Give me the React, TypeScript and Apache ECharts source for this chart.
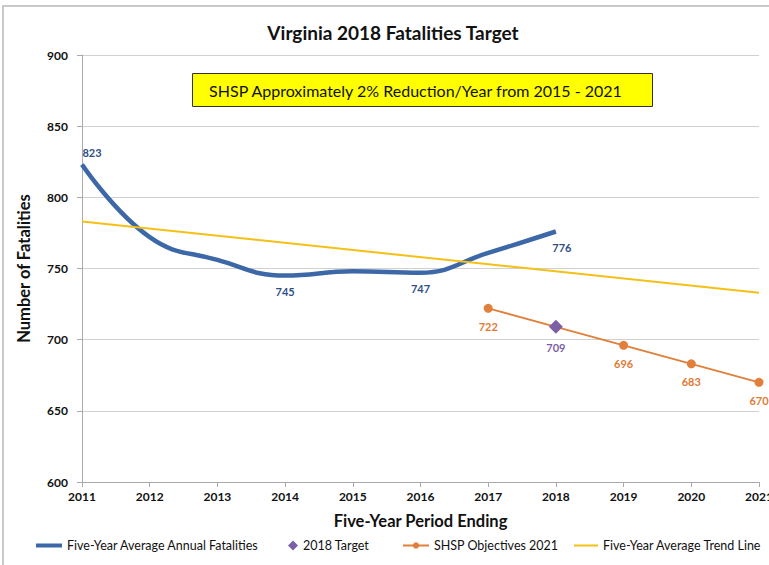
import React, { useEffect, useRef } from "react";
import * as echarts from "echarts";

const years = ["2011", "2012", "2013", "2014", "2015", "2016", "2017", "2018", "2019", "2020", "2021"];
const fiveYearAvg = [823, 772, 756, 745, 748, 747, 761, 776, null, null, null];
const fiveYearLabelShown = [true, false, false, true, false, true, false, true, false, false, false];
const target2018 = [null, null, null, null, null, null, null, 709, null, null, null];
const shspObjectives = [null, null, null, null, null, null, 722, 709, 696, 683, 670];
const trendLine = [783, null, null, null, null, null, null, null, null, null, 733];
const yTicks = { min: 600, max: 900, interval: 50 };

const FONT = "Lato, 'Noto Sans', sans-serif";
const legendText = { fontFamily: FONT, fontSize: 12.5, color: "#111" };

export default function App() {
  const ref = useRef<HTMLDivElement>(null);
  useEffect(() => {
    if (!ref.current) return;
    const chart = echarts.init(ref.current, null, { renderer: "svg" });
    chart.setOption({
      animation: false,
      backgroundColor: "#fff",
      textStyle: { fontFamily: FONT },
      title: {
        text: "Virginia 2018 Fatalities Target",
        left: 388,
        textAlign: "center",
        top: 18,
        textStyle: { fontFamily: FONT, fontSize: 19, fontWeight: "bold", color: "#111" },
      },
      graphic: [
        {
          type: "rect",
          shape: { x: 3, y: 6, width: 820, height: 620 },
          style: { fill: "none", stroke: "#b8b8b8", lineWidth: 1.5 },
          silent: true,
        },
        {
          type: "group",
          left: 192,
          top: 73,
          children: [
            {
              type: "rect",
              shape: { x: 0, y: 0, width: 460, height: 33 },
              style: { fill: "#ffff00", stroke: "#333", lineWidth: 1 },
            },
            {
              type: "text",
              x: 223,
              y: 17,
              style: {
                text: "SHSP Approximately 2% Reduction/Year from 2015 - 2021",
                fontFamily: FONT,
                fontSize: 16,
                fill: "#111",
                align: "center",
                verticalAlign: "middle",
              },
            },
          ],
        },
      ],
      grid: { left: 82, right: 10, top: 55, bottom: 83, outerBoundsMode: "none", containLabel: false },
      legend: [
        {
          bottom: 8,
          left: 29,
          itemWidth: 26,
          itemHeight: 8,
          itemGap: 4,
          textStyle: legendText,
          data: [
            { name: "Five-Year Average Annual Fatalities", itemStyle: { opacity: 0 }, lineStyle: { width: 4 } },
          ],
        },
        {
          bottom: 8,
          left: 283,
          itemWidth: 10,
          itemHeight: 10,
          textStyle: legendText,
          data: [{ name: "2018 Target", icon: "diamond" }],
        },
        {
          bottom: 8,
          left: 397,
          itemWidth: 26,
          itemHeight: 8,
          textStyle: legendText,
          data: [{ name: "SHSP Objectives 2021" }],
        },
        {
          bottom: 8,
          left: 568,
          itemWidth: 24,
          itemHeight: 8,
          textStyle: legendText,
          data: [{ name: "Five-Year Average Trend Line", itemStyle: { opacity: 0 } }],
        },
      ],
      xAxis: {
        type: "category",
        data: years,
        boundaryGap: false,
        name: "Five-Year Period Ending",
        nameLocation: "middle",
        nameGap: 30,
        nameTextStyle: { fontFamily: FONT, fontSize: 16.5, fontWeight: "bold", color: "#111" },
        axisLine: { lineStyle: { color: "#aaa" } },
        axisTick: { show: true, lineStyle: { color: "#aaa" } },
        axisLabel: { fontFamily: FONT, fontSize: 12, fontWeight: "bold", color: "#111", margin: 8 },
        splitLine: { show: false },
      },
      yAxis: {
        type: "value",
        min: yTicks.min,
        max: yTicks.max,
        interval: yTicks.interval,
        name: "Number of Fatalities",
        nameLocation: "middle",
        nameGap: 50,
        nameTextStyle: { fontFamily: FONT, fontSize: 16.5, fontWeight: "bold", color: "#111" },
        axisLine: { show: true, lineStyle: { color: "#aaa" } },
        axisTick: { show: true, lineStyle: { color: "#aaa" } },
        axisLabel: { fontFamily: FONT, fontSize: 12, fontWeight: "bold", color: "#111", margin: 14 },
        splitLine: { lineStyle: { color: "#d0d0d0" } },
      },
      series: [
        {
          name: "Five-Year Average Annual Fatalities",
          type: "line",
          data: fiveYearAvg,
          smooth: 0.45,
          showSymbol: false,
          symbol: "none",
          lineStyle: { color: "#3d68a8", width: 4.5 },
          itemStyle: { color: "#3d68a8" },
          z: 2,
        },
        {
          name: "fiveYearAvgLabels",
          type: "line",
          data: fiveYearAvg.map((v, i) => ({
            value: fiveYearLabelShown[i] ? v : null,
            label: {
              show: fiveYearLabelShown[i],
              position: i === 0 ? "top" : "bottom",
              offset: i === 0 ? [10, 0] : i === 7 ? [6, 0] : [0, 0],
              distance: i === 0 ? 6 : 10,
            },
          })),
          showSymbol: true,
          symbol: "circle",
          symbolSize: 1,
          lineStyle: { width: 0, opacity: 0 },
          itemStyle: { color: "#2f4f86", opacity: 0.01 },
          label: {
            show: true,
            fontFamily: FONT,
            fontSize: 11,
            fontWeight: "bold",
            color: "#2f4f86",
            opacity: 1,
          },
          silent: true,
          z: 6,
        },
        {
          name: "SHSP Objectives 2021",
          type: "line",
          data: shspObjectives,
          symbol: "circle",
          symbolSize: 9,
          lineStyle: { color: "#e0803c", width: 2 },
          itemStyle: { color: "#e0803c" },
          label: {
            show: true,
            position: "bottom",
            distance: 8,
            fontFamily: FONT,
            fontSize: 11,
            fontWeight: "bold",
            color: "#e07a35",
            formatter: (p: any) => (p.dataIndex === 7 ? "" : String(p.value)),
          },
          z: 3,
        },
        {
          name: "2018 Target",
          type: "line",
          data: target2018,
          symbol: "diamond",
          symbolSize: 14,
          lineStyle: { width: 0, opacity: 0 },
          itemStyle: { color: "#7c5fa6" },
          label: {
            show: true,
            position: "bottom",
            distance: 8,
            fontFamily: FONT,
            fontSize: 11,
            fontWeight: "bold",
            color: "#7c5fa6",
          },
          z: 5,
        },
        {
          name: "Five-Year Average Trend Line",
          type: "line",
          data: trendLine,
          connectNulls: true,
          symbol: "none",
          lineStyle: { color: "#f5c016", width: 2 },
          itemStyle: { color: "#f5c016" },
          z: 4,
        },
      ],
    });
    return () => chart.dispose();
  }, []);
  return (
    <div
      ref={ref}
      style={{ position: "fixed", left: 0, top: 0, width: 769, height: 565 }}
    />
  );
}
